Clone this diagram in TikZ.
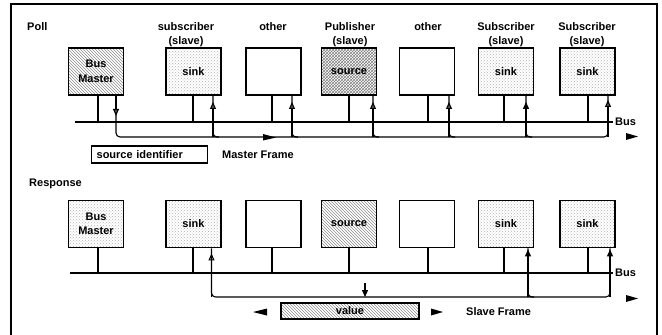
\documentclass[tikz,border=0pt]{standalone}
\usepackage{fontspec}
\setmainfont{Liberation Sans}
\usetikzlibrary{arrows.meta,patterns,calc}
\begin{document}
\begin{tikzpicture}[x=1pt,y=-1pt,
  txt/.style={font=\fontsize{11}{14.5}\selectfont\bfseries},
  box/.style={draw,line width=1.9pt,minimum width=55pt,minimum height=47pt,inner sep=0pt,align=center,txt},
  hatchbox/.style={box,pattern=north west lines,pattern color=black!45},
  densebox/.style={box,pattern=crosshatch,pattern color=black!50},
  sinkbox/.style={box,pattern=crosshatch dots,pattern color=black!30},
  lbl/.style={txt,inner sep=0pt,align=center},
  stem/.style={line width=1.8pt},
  busline/.style={line width=2.2pt},
  fl/.style={line width=1.1pt,rounded corners=4pt},
  openarr/.style={line width=1.1pt,-{Triangle[open,length=7pt,width=6pt]}},
  fullarr/.style={line width=1.1pt,-{Triangle[length=7pt,width=6pt]}},
]
\useasboundingbox (0,0) rectangle (662,335);
% outer frame
\draw[line width=2pt] (10.5,340) -- (10.5,3.5) -- (657,3.5) -- (657,340);

% ================= POLL =================
\node[lbl,anchor=west] (poll) at (27,27) {Poll};
\node[lbl] (lps) at (186,34.5) {subscriber\\(slave)};
\node[lbl] (lpo1) at (273,27) {other};
\node[lbl] (lpp) at (350,34.5) {Publisher\\(slave)};
\node[lbl] (lpo2) at (428,27) {other};
\node[lbl] (lpt1) at (506,34.5) {Subscriber\\(slave)};
\node[lbl] (lpt2) at (587,34.5) {Subscriber\\(slave)};

\node[hatchbox] (pm) at (96,71.5) {Bus\\Master};
\node[sinkbox] (ps) at (193.5,71.5) {sink};
\node[box] (po1) at (273.5,71.5) {};
\node[densebox] (pp) at (349,71.5) {source};
\node[box] (po2) at (427,71.5) {};
\node[sinkbox] (pt1) at (506,71.5) {sink};
\node[sinkbox] (pt2) at (587.5,71.5) {sink};

\coordinate (pbL) at (75,122);
\coordinate (pbR) at (613,122);
\draw[busline] (pbL) -- (pbR);
\node[lbl,anchor=west] (pbus) at (615,122) {Bus};

\foreach \n/\dx in {pm/2,ps/-0.5,po1/-1.5,pp/0,po2/1,pt1/-2,pt2/0.5}
  \draw[stem] ([xshift=\dx pt]\n.south) -- ([xshift=\dx pt]\n.south |- pbL);

\coordinate (pf) at (0,137);
\coordinate (pa1) at ([xshift=20pt]pm.south);
\coordinate (pa2) at ([xshift=19.5pt]ps.south);
\coordinate (pa3) at ([xshift=18.5pt]po1.south);
\coordinate (pa4) at ([xshift=24pt]pp.south);
\coordinate (pa5) at ([xshift=22pt]po2.south);
\coordinate (pa6) at ([xshift=20pt]pt1.south);
\coordinate (pa7) at ([xshift=20.5pt]pt2.south);

\draw[fl] (pa1) -- (pa1 |- pf) -- (pa7 |- pf) -- (pa7);
\draw[openarr] (pa1) -- ($(pa1)+(0,20)$);
\foreach \a in {pa2,pa3,pa4,pa5}{
  \draw[fl] ($(\a |- pf)+(6,0)$) -- (\a |- pf) -- (\a);
  \draw[openarr] (\a |- pf) -- ($(\a)+(0,6)$);
}
\draw[fl] ($(pa6 |- pf)+(6,0)$) -- (pa6 |- pf) -- (pa6);
\draw[fullarr] (pa6 |- pf) -- ($(pa6)+(0,6)$);
\draw[openarr] (pa7 |- pf) -- ($(pa7)+(0,4)$);

\fill (263,134) -- (276,137.5) -- (263,140.5) -- cycle;
\fill (626,133) -- (638,136.5) -- (626,140) -- cycle;

\node[draw,line width=1.3pt,inner xsep=5pt,inner ysep=0pt,minimum height=17pt,text width=106pt,align=left,anchor=west,txt] (sid) at (91,154.5) {source identifier};
\node[lbl,anchor=west] (mf) at (222,154.5) {Master Frame};

% ================= RESPONSE =================
\node[lbl,anchor=west] (resp) at (29,184) {Response};

\node[sinkbox] (rm) at (96,224) {Bus\\Master};
\node[sinkbox] (rs) at (193.5,224) {sink};
\node[box] (ro1) at (273.5,224) {};
\node[hatchbox] (rp) at (349,224) {source};
\node[box] (ro2) at (427,224) {};
\node[sinkbox] (rt1) at (506,224) {sink};
\node[sinkbox] (rt2) at (587.5,224) {sink};

\coordinate (rbL) at (70,273);
\coordinate (rbR) at (613,273);
\draw[busline] (rbL) -- (rbR);
\node[lbl,anchor=west] (rbus) at (615,273) {Bus};

\foreach \n/\dx in {rm/2,rs/-0.5,ro1/-1.5,rp/0,ro2/1,rt1/-2,rt2/0.5}
  \draw[stem] ([xshift=\dx pt]\n.south) -- ([xshift=\dx pt]\n.south |- rbL);

\coordinate (rf) at (0,297);
\coordinate (ra1) at ([xshift=18pt]rs.south);
\coordinate (ra2) at ([xshift=22pt]rt1.south);
\coordinate (ra3) at ([xshift=22.5pt]rt2.south);

\draw[fl] (ra1) -- (ra1 |- rf) -- (ra3 |- rf) -- (ra3);
\draw[openarr] (ra1 |- rf) -- ($(ra1)+(0,5)$);
\draw[fl] ($(ra2 |- rf)+(6,0)$) -- (ra2 |- rf) -- (ra2);
\draw[fullarr] (ra2 |- rf) -- ($(ra2)+(0,1)$);
\draw[fullarr] (ra3 |- rf) -- ($(ra3)+(0,1)$);

\coordinate (vm) at (365,283);
\draw[fullarr] (vm) -- (vm |- rf);

\node[draw,line width=1.9pt,pattern=north west lines,pattern color=black!45,minimum width=138pt,minimum height=16pt,inner sep=0pt,txt] (val) at (350,311) {value};
\fill (267,308.5) -- (253,312) -- (267,315.5) -- cycle;
\fill (431,308.5) -- (443,312) -- (431,315.5) -- cycle;
\node[lbl,anchor=west] (sf) at (466,312) {Slave Frame};
\fill (626,295) -- (638,298.5) -- (626,302) -- cycle;
\end{tikzpicture}
\end{document}
